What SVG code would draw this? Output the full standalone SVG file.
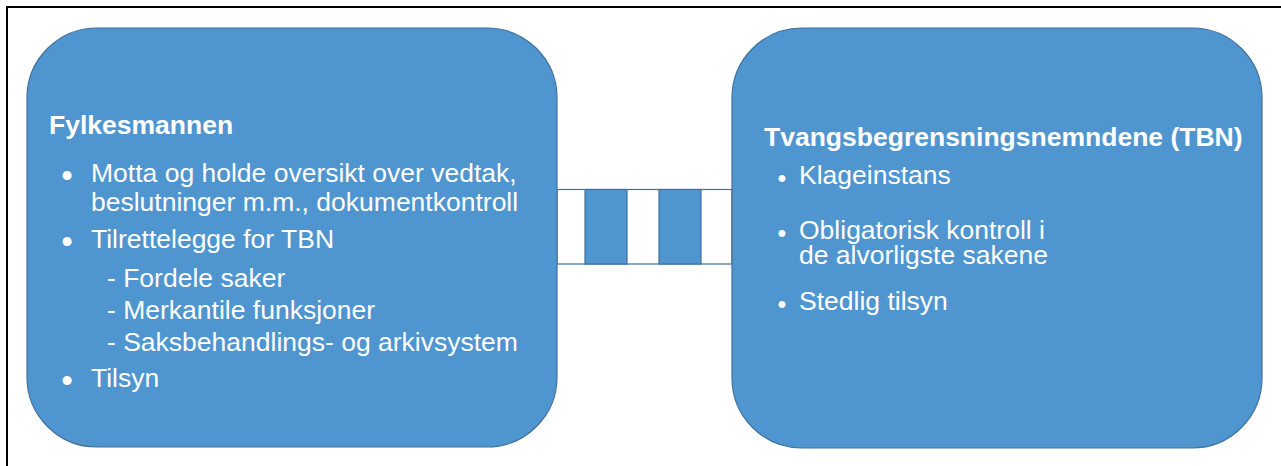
<svg xmlns="http://www.w3.org/2000/svg" width="1281" height="466" viewBox="0 0 1281 466">
  <style>
    .box { fill: #4F95D0; stroke: #41719C; stroke-width: 1.2; }
    .t { font-family: "Liberation Sans", Arial, sans-serif; fill: #FFFFFF; font-size: 26.5px; }
    .h { font-weight: bold; }
    .bl { font-family: "Liberation Sans", Arial, sans-serif; fill: #FFFFFF; font-size: 33px; text-anchor: middle; }
    .br { font-family: "Liberation Sans", Arial, sans-serif; fill: #FFFFFF; font-size: 25px; text-anchor: middle; }
    .sw { fill: #FFFFFF; stroke: #41719C; stroke-width: 1.2; }
    .sb { fill: #4F95D0; stroke: #41719C; stroke-width: 1.2; }
  </style>
  <rect x="0" y="0" width="1281" height="466" fill="#FFFFFF"/>
  <path d="M7,466 V7 H1281" fill="none" stroke="#000000" stroke-width="2"/>

  <g id="connectors">
    <rect class="sw" x="557" y="189.5" width="175" height="74.5"/>
    <rect class="sb" x="585" y="189.5" width="42" height="74.5"/>
    <rect class="sb" x="659" y="189.5" width="42" height="74.5"/>
  </g>

  <g id="node-fylkesmannen">
    <rect class="box" x="27" y="28" width="530" height="419" rx="70" ry="70"/>
    <text class="t h" x="49" y="134">Fylkesmannen</text>
    <text class="bl" x="67" y="187">•</text>
    <text class="t" x="91" y="182">Motta og holde oversikt over vedtak,<tspan x="91" dy="29">beslutninger m.m., dokumentkontroll</tspan></text>
    <text class="bl" x="67" y="253">•</text>
    <text class="t" x="91" y="248">Tilrettelegge for TBN</text>
    <text class="t" x="107" y="287">- Fordele saker<tspan x="107" dy="32">- Merkantile funksjoner</tspan><tspan x="107" dy="32">- Saksbehandlings- og arkivsystem</tspan></text>
    <text class="bl" x="67" y="392">•</text>
    <text class="t" x="91" y="387">Tilsyn</text>
  </g>

  <g id="node-tbn">
    <rect class="box" x="732" y="28" width="530" height="420" rx="70" ry="70"/>
    <text class="t h" x="764" y="146">Tvangsbegrensningsnemndene (TBN)</text>
    <text class="br" x="782" y="187">•</text>
    <text class="t" x="799" y="184">Klageinstans</text>
    <text class="br" x="782" y="242">•</text>
    <text class="t" x="799" y="239">Obligatorisk kontroll i<tspan x="799" dy="25">de alvorligste sakene</tspan></text>
    <text class="br" x="782" y="313">•</text>
    <text class="t" x="799" y="310">Stedlig tilsyn</text>
  </g>
</svg>
